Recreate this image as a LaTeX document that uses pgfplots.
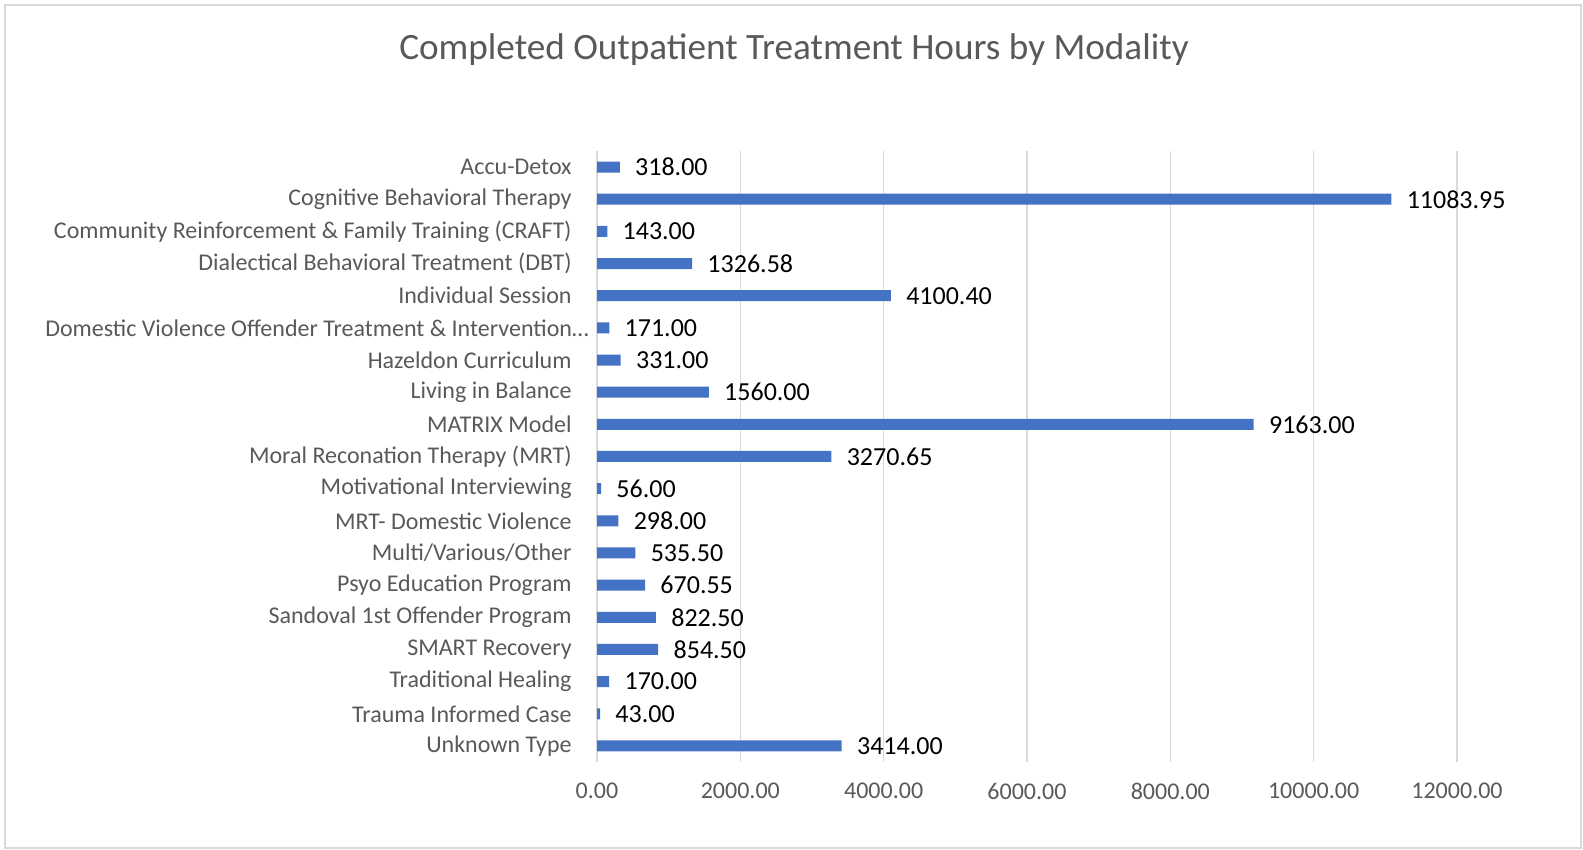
\documentclass[border=0pt]{standalone}
\usepackage{fontspec}
\setmainfont{Carlito}
\usepackage{pgfplots}
\pgfplotsset{compat=1.18}
\definecolor{XLBlue}{HTML}{4472C4}
\definecolor{XLGray}{HTML}{595959}
\definecolor{XLGrid}{HTML}{D9D9D9}

\begin{document}
\begin{tikzpicture}
\useasboundingbox (0,0) rectangle (791.5pt,425pt);
\draw[XLGrid,line width=0.7pt] (2.5pt,1pt) rectangle (790.5pt,422.5pt);
\node[font=\fontsize{18.6}{21}\selectfont,text=XLGray] at (397pt,400pt) {Completed Outpatient Treatment Hours by Modality};
\begin{axis}[
  at={(298.5pt,44pt)}, anchor=south west,
  scale only axis,
  width=430pt, height=305.5pt,
  xbar, bar width=5.5pt,
  xmin=0, xmax=12000,
  ymin=-0.5, ymax=18.5, y dir=reverse,
  axis line style={draw=none},
  major tick length=0pt,
  xtick={0,2000,...,12000},
  scaled x ticks=false,
  ytick={0,...,18},
  xmajorgrids=true,
  grid style={draw=XLGrid,line width=0.75pt},
  /pgf/number format/assume math mode=true,
  /pgf/number format/fixed,
  /pgf/number format/fixed zerofill,
  /pgf/number format/precision=2,
  /pgf/number format/1000 sep={},
  xticklabel style={font=\fontsize{12}{14}\selectfont,text=XLGray,inner sep=0pt,yshift=-10.5pt},
  yticklabel style={font=\fontsize{12}{14}\selectfont,text=XLGray,inner sep=0pt,xshift=-12.5pt},
  yticklabels={Accu-Detox,Cognitive Behavioral Therapy,Community Reinforcement \& Family Training (CRAFT),Dialectical Behavioral Treatment (DBT),Individual Session,Domestic Violence Offender Treatment \& Intervention…\hspace*{-8.5pt},Hazeldon Curriculum,Living in Balance,MATRIX Model,Moral Reconation Therapy (MRT),Motivational Interviewing,MRT- Domestic Violence,Multi/Various/Other,Psyo Education Program,Sandoval 1st Offender Program,SMART Recovery,Traditional Healing,Trauma Informed Case,Unknown Type},
  nodes near coords,
  every node near coord/.append style={font=\fontsize{13}{15}\selectfont,text=black,inner sep=0pt,xshift=7.5pt,anchor=west},
]
\addplot[fill=XLBlue,draw=none] coordinates {
  (318.00,0) (11083.95,1) (143.00,2) (1326.58,3) (4100.40,4) (171.00,5)
  (331.00,6) (1560.00,7) (9163.00,8) (3270.65,9) (56.00,10) (298.00,11)
  (535.50,12) (670.55,13) (822.50,14) (854.50,15) (170.00,16) (43.00,17)
  (3414.00,18)};
\end{axis}
\end{tikzpicture}
\end{document}
